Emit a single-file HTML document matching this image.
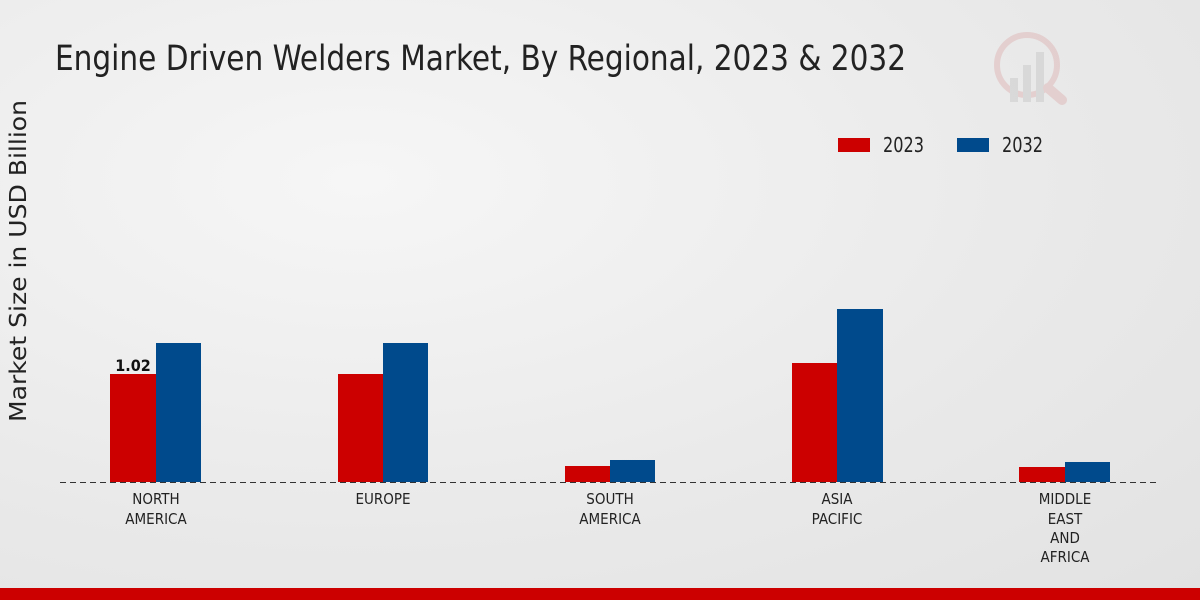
<!DOCTYPE html>
<html><head><meta charset="utf-8"><style>
html,body{margin:0;padding:0}
body{width:1200px;height:600px;overflow:hidden;background:radial-gradient(ellipse at 30% 30%,#f6f6f6 0%,#e9e9e9 60%,#e2e2e2 100%);font-family:"Liberation Sans Narrow","DejaVu Sans Condensed","Liberation Sans",sans-serif;position:relative}
</style></head><body>
<svg width="1200" height="600" style="position:absolute;left:0;top:0">
<text x="55" y="70" font-size="35" fill="#222" textLength="851" lengthAdjust="spacingAndGlyphs" font-family="Liberation Sans Narrow, DejaVu Sans Condensed, Liberation Sans, sans-serif">Engine Driven Welders Market, By Regional, 2023 &amp; 2032</text>
<text transform="translate(26,261) rotate(-90)" text-anchor="middle" font-size="23" fill="#222" textLength="322" lengthAdjust="spacingAndGlyphs" font-family="DejaVu Sans, Liberation Sans, sans-serif">Market Size in USD Billion</text>
<g opacity="0.35">
<circle cx="1027" cy="65" r="30" fill="none" stroke="#d9a0a0" stroke-width="6"/>
<rect x="1010" y="78" width="8" height="24" fill="#bbb"/><rect x="1023" y="65" width="8" height="37" fill="#bbb"/><rect x="1036" y="52" width="8" height="50" fill="#bbb"/>
<line x1="1048" y1="88" x2="1062" y2="100" stroke="#d9a0a0" stroke-width="10" stroke-linecap="round"/>
</g>
<rect x="838" y="138" width="32" height="14" fill="#cc0000"/>
<text x="883" y="152" font-size="20" fill="#222" textLength="41" lengthAdjust="spacingAndGlyphs">2023</text>
<rect x="957" y="138" width="32" height="14" fill="#004a8c"/>
<text x="1002" y="152" font-size="20" fill="#222" textLength="41" lengthAdjust="spacingAndGlyphs">2032</text>
<g fill="#cc0000">
<rect x="110" y="374" width="46" height="108"/>
<rect x="338" y="374" width="45" height="108"/>
<rect x="565" y="466" width="45" height="16"/>
<rect x="792" y="363" width="45" height="119"/>
<rect x="1019" y="467" width="46" height="15"/>
</g>
<g fill="#004a8c">
<rect x="156" y="343" width="45" height="139"/>
<rect x="383" y="343" width="45" height="139"/>
<rect x="610" y="460" width="45" height="22"/>
<rect x="837" y="309" width="46" height="173"/>
<rect x="1065" y="462" width="45" height="20"/>
</g>
<line x1="60" y1="482.5" x2="1160" y2="482.5" stroke="#333" stroke-width="1" stroke-dasharray="6,4"/>
<text x="133" y="371" text-anchor="middle" font-size="16" font-weight="bold" fill="#111" font-family="DejaVu Sans Condensed, Liberation Sans, sans-serif">1.02</text>
<g font-size="15" fill="#222" text-anchor="middle">
<text x="156" y="504">NORTH</text><text x="156" y="524">AMERICA</text>
<text x="383" y="504">EUROPE</text>
<text x="610" y="504">SOUTH</text><text x="610" y="524">AMERICA</text>
<text x="837" y="504">ASIA</text><text x="837" y="524">PACIFIC</text>
<text x="1065" y="504">MIDDLE</text><text x="1065" y="524">EAST</text><text x="1065" y="543">AND</text><text x="1065" y="562">AFRICA</text>
</g>
<rect x="0" y="588" width="1200" height="12" fill="#cc0000"/>
</svg>
</body></html>
